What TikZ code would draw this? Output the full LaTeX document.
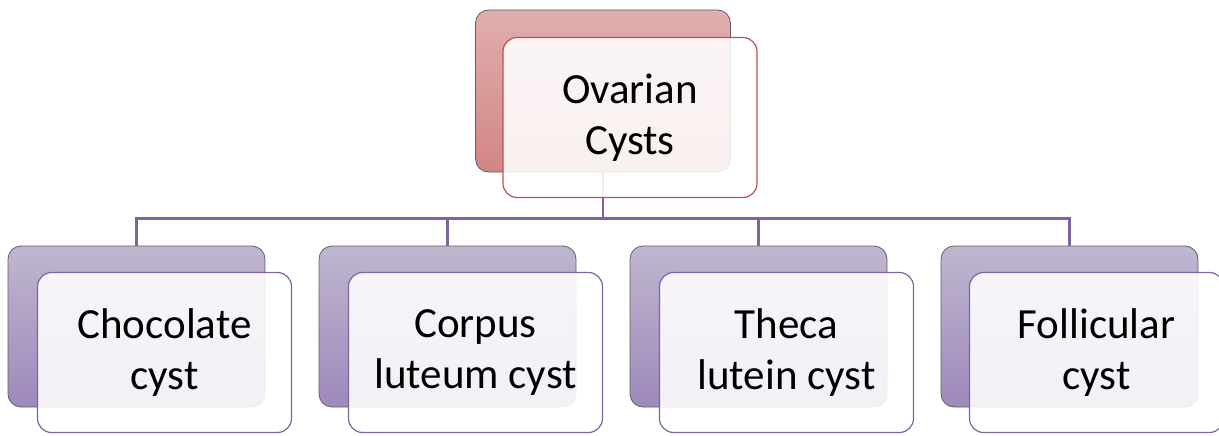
\documentclass[tikz,border=0pt]{standalone}
\usepackage{fontspec}
\setmainfont{Carlito}
\usepackage{tikz}
\usepackage{xcolor}
\definecolor{cystred}{HTML}{C0504D}
\definecolor{cystpurple}{HTML}{8064A2}

\begin{document}
\begin{tikzpicture}
        [x=1pt, y=1pt,
    backbox/.style={rectangle, rounded corners=13pt, draw=black!62, line width=0.8pt,
        minimum width=257pt, minimum height=161pt, inner sep=0pt},
    rootback/.style={backbox, minimum width=255pt, minimum height=162pt,
        top color={rgb,255:red,224;green,174;blue,174}, bottom color={rgb,255:red,211;green,133;blue,133}},
    kidback/.style={backbox,
        top color={rgb,255:red,191;green,182;blue,207}, bottom color={rgb,255:red,158;green,137;blue,187}},
    frontbox/.style={rectangle, rounded corners=14pt, draw, line width=1.2pt, fill=white,
        fill opacity=0.88, text opacity=1, minimum width=254pt, minimum height=160pt,
        inner sep=0pt, align=center, font=\fontsize{43}{51}\selectfont},
    level 1/.style={sibling distance=311pt, level distance=235.5pt},
    edge from parent/.style={draw=cystpurple, line width=2.6pt},
    edge from parent path={(\tikzparentnode.south) -- ++(0,-46) -| (\tikzchildnode.north)}]
    \useasboundingbox (0,0) rectangle (1219,-436);
    \node (cysts) [rootback] at (603,-91) {}
    child{node (choc) [kidback] {}}
    child{node (corpus) [kidback] {}}
    child{node (theca) [kidback] {}}
    child{node (follic) [kidback] {}}
    ;

    % front cards with the labels
    \node (cysts-txt) [frontbox, draw=cystred] at ([shift={(27,-26.5)}]cysts.center) {Ovarian\\Cysts};
    \node (choc-txt) [frontbox, draw=cystpurple] at ([shift={(28,-26)}]choc.center) {Chocolate\\cyst};
    \node (corpus-txt) [frontbox, draw=cystpurple] at ([shift={(28,-26)}]corpus.center) {Corpus\\luteum cyst};
    \node (theca-txt) [frontbox, draw=cystpurple] at ([shift={(28,-26)}]theca.center) {Theca\\lutein cyst};
    \node (follic-txt) [frontbox, draw=cystpurple] at ([shift={(27,-26)}]follic.center) {Follicular\\cyst};

    \end{tikzpicture}
\end{document}
